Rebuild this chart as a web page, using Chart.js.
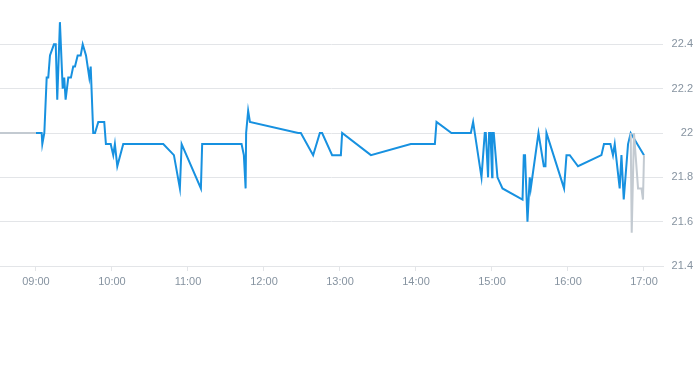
<!DOCTYPE html>
<html>
<head>
<meta charset="utf-8">
<script src="https://cdn.jsdelivr.net/npm/chart.js@4"></script>
<style>
  body { margin: 0; background: #fff; }
  #wrap { width: 693px; height: 300px; }
</style>
</head>
<body>
<div id="wrap"><canvas id="chart"></canvas></div>
<script>
// intraday trades
const tradeTimes = [
  '09:00:00', '09:04:30', '09:05:00', '09:06:36', '09:08:27', '09:09:42', '09:11:03', '09:14:12',
  '09:15:36', '09:16:48', '09:18:54', '09:21:06', '09:22:18', '09:23:24', '09:25:30', '09:27:36',
  '09:29:24', '09:30:48', '09:32:54', '09:35:18', '09:36:54', '09:39:30', '09:42:06', '09:43:12',
  '09:45:12', '09:46:36', '09:49:12', '09:53:54', '09:55:12', '09:59:00', '10:01:00', '10:02:18',
  '10:04:12', '10:08:54', '10:40:30', '10:48:54', '10:53:36', '10:55:00', '11:10:12', '11:11:12',
  '11:42:18', '11:44:06', '11:45:30', '11:45:54', '11:47:30', '11:48:54', '12:27:00', '12:29:06',
  '12:38:48', '12:44:06', '12:45:54', '12:53:48', '13:00:42', '13:01:42', '13:24:24', '13:55:54',
  '14:14:54', '14:16:12', '14:28:00', '14:43:18', '14:45:06', '14:51:42', '14:54:18', '14:55:06',
  '14:56:54', '14:57:42', '14:58:48', '15:00:06', '15:00:24', '15:01:24', '15:04:18', '15:08:18',
  '15:24:06', '15:25:06', '15:26:06', '15:28:00', '15:29:48', '15:30:36', '15:36:42', '15:40:54',
  '15:42:12', '15:43:00', '15:56:54', '15:58:48', '16:01:24', '16:07:54', '16:26:24', '16:28:24',
  '16:33:30', '16:35:30', '16:36:54', '16:40:48', '16:42:12', '16:44:00', '16:47:24', '16:49:30',
  '17:00:00'
];
const tradePrices = [
  22.0, 22.0, 21.95, 22.0, 22.25, 22.25, 22.35, 22.4,
  22.4, 22.15, 22.5, 22.2, 22.25, 22.15, 22.25, 22.25,
  22.3, 22.3, 22.35, 22.35, 22.4, 22.35, 22.25, 22.3,
  22.0, 22.0, 22.05, 22.05, 21.95, 21.95, 21.9, 21.95,
  21.85, 21.95, 21.95, 21.9, 21.75, 21.95, 21.75, 21.95,
  21.95, 21.9, 21.75, 22.0, 22.1, 22.05, 22.0, 22.0,
  21.9, 22.0, 22.0, 21.9, 21.9, 22.0, 21.9, 21.95,
  21.95, 22.05, 22.0, 22.0, 22.05, 21.8, 22.0, 22.0,
  21.8, 22.0, 22.0, 21.8, 22.0, 22.0, 21.8, 21.75,
  21.7, 21.9, 21.9, 21.6, 21.8, 21.75, 22.0, 21.85,
  21.85, 22.0, 21.75, 21.9, 21.9, 21.85, 21.9, 21.95,
  21.95, 21.9, 21.95, 21.75, 21.9, 21.7, 21.95, 22.0,
  21.9
];

// reference line before the open and the closing auction (grey)
const preOpenTimes = ['08:30:00', '09:00:00'];
const preOpenPrices = [22.0, 22.0];
const closingTimes = ['16:49:30', '16:50:18', '16:52:06', '16:55:18', '16:58:00', '16:59:12', '17:00:00'];
const closingPrices = [22.0, 21.55, 22.0, 21.75, 21.75, 21.7, 21.9];

const hourLabels = ['09:00', '10:00', '11:00', '12:00', '13:00', '14:00', '15:00', '16:00', '17:00'];
const priceTicks = [21.4, 21.6, 21.8, 22.0, 22.2, 22.4];

function toMinutes(t) {
  const p = t.split(':').map(Number);
  return p[0] * 60 + p[1] + (p[2] || 0) / 60;
}

function toPoints(times, prices) {
  return times.map((t, i) => ({ x: toMinutes(t), y: prices[i] }));
}

const greyPoints = toPoints(preOpenTimes, preOpenPrices)
  .concat([{ x: toMinutes('12:00'), y: null }])
  .concat(toPoints(closingTimes, closingPrices));

const labelColor = '#8693a0';
const gridColor = '#e3e5e8';

new Chart(document.getElementById('chart'), {
  type: 'line',
  data: {
    datasets: [
      {
        data: greyPoints,
        borderColor: '#c3cad1',
        borderWidth: 2,
        pointRadius: 0,
        tension: 0,
        spanGaps: false
      },
      {
        data: toPoints(tradeTimes, tradePrices),
        borderColor: '#1791e0',
        borderWidth: 2,
        pointRadius: 0,
        tension: 0
      }
    ]
  },
  options: {
    responsive: true,
    maintainAspectRatio: false,
    animation: false,
    layout: { padding: 0 },
    plugins: {
      legend: { display: false },
      tooltip: { enabled: false }
    },
    scales: {
      x: {
        type: 'linear',
        min: 511.6,
        max: 1035,
        afterBuildTicks: scale => {
          scale.ticks = hourLabels.map(l => ({ value: toMinutes(l) }));
        },
        afterFit: scale => { scale.height = 34; },
        grid: {
          drawOnChartArea: false,
          drawTicks: true,
          tickLength: 5,
          color: gridColor
        },
        border: { display: true, color: gridColor },
        ticks: {
          autoSkip: false,
          maxRotation: 0,
          padding: 4,
          color: labelColor,
          font: { family: 'Liberation Sans', size: 11 },
          callback: value => hourLabels.find(l => toMinutes(l) === value) || ''
        }
      },
      y: {
        position: 'right',
        min: 21.4,
        max: 22.6,
        afterBuildTicks: scale => {
          scale.ticks = priceTicks.map(v => ({ value: v }));
        },
        afterFit: scale => {
          scale.width = 30;
          scale.paddingTop = 0;
          scale.paddingBottom = 0;
        },
        grid: {
          drawTicks: false,
          color: gridColor
        },
        border: { display: false },
        ticks: {
          crossAlign: 'far',
          padding: 0,
          color: labelColor,
          font: { family: 'Liberation Sans', size: 11 },
          callback: value => String(Number(value.toFixed(1)))
        }
      }
    }
  }
});
</script>
</body>
</html>
